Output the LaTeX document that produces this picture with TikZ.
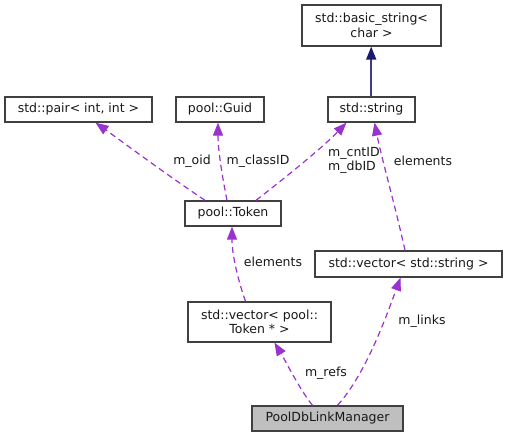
\documentclass[tikz,border=0pt]{standalone}
\usepackage{fontspec}
\setmainfont{DejaVu Sans}
\usetikzlibrary{arrows.meta}
\definecolor{edgepurple}{HTML}{9A32CD}
\definecolor{edgenavy}{HTML}{191970}
\definecolor{navyline}{HTML}{3C3C8C}
\definecolor{boxborder}{HTML}{404040}
\definecolor{mgrfill}{HTML}{BFBFBF}
\begin{document}
\begin{tikzpicture}[x=1pt,y=-1pt,
  every node/.style={font=\fontsize{12.5}{14.5}\selectfont, text=black!90},
  cls/.style={draw=boxborder, line width=1.3pt, fill=white, inner sep=0pt, align=center},
  usage/.style={draw=edgepurple, line width=1.2pt, dash pattern=on 6pt off 4pt,
     -{Triangle[length=13pt,width=10pt,fill=edgepurple,color=edgepurple]}},
  inherit/.style={navyline, line width=1.6pt,
     -{Triangle[length=13pt,width=10pt,fill=edgenavy,color=edgenavy]}},
  lbl/.style={inner sep=0pt, fill=none}
]
\useasboundingbox (0,0) rectangle (508,437);
\fill[white] (0,0) rectangle (508,437);

\node[cls, minimum width=139pt, minimum height=41pt] (bs) at (371.5,25.5) {std::basic\_string<\\char >};
\node[cls, minimum width=147pt, minimum height=25pt] (pair) at (78.5,109.5) {std::pair< int, int >};
\node[cls, minimum width=88pt, minimum height=25pt] (guid) at (220,109.5) {pool::Guid};
\node[cls, minimum width=87pt, minimum height=25pt] (str) at (371.5,109.5) {std::string};
\node[cls, minimum width=96pt, minimum height=25pt] (token) at (233,213.5) {pool::Token};
\node[cls, minimum width=187pt, minimum height=26pt] (vstr) at (408.5,264) {std::vector< std::string >};
\node[cls, minimum width=143pt, minimum height=40pt] (vtok) at (259.5,322) {std::vector< pool::\\Token * >};
\node[cls, fill=mgrfill, minimum width=151pt, minimum height=25pt] (mgr) at (327.5,418.5) {PoolDbLinkManager};

% connector end points on the borders
\coordinate (tokA) at ([xshift=-28pt]token.north);
\coordinate (tokB) at ([xshift=-6pt]token.north);
\coordinate (tokC) at ([xshift=23pt]token.north);
\coordinate (pairE) at ([xshift=17pt]pair.south);
\coordinate (guidE) at ([xshift=-2pt]guid.south);
\coordinate (strE) at ([xshift=-25pt]str.south);
\coordinate (strF) at ([xshift=3pt]str.south);
\coordinate (vstrS) at ([xshift=-3.5pt]vstr.north);
\coordinate (vstrE) at ([xshift=-8pt]vstr.south);
\coordinate (tokE) at ([xshift=-1pt]token.south);
\coordinate (vtokS) at ([xshift=-14pt]vtok.north);
\coordinate (vtokE) at ([xshift=15pt]vtok.south);
\coordinate (mgrA) at ([xshift=-15pt]mgr.north);
\coordinate (mgrB) at ([xshift=10pt]mgr.north);
\coordinate (strTop) at ([xshift=-0.3pt]str.north);
\coordinate (bsBot) at ([xshift=-0.3pt]bs.south);

\draw[inherit] (strTop) -- (bsBot);

\draw[usage] (tokA) .. controls (160,170) and (120,140) .. (pairE);
\draw[usage] (tokB) .. controls (222,175) and (218,150) .. (guidE);
\draw[usage] (tokC) .. controls (295,170) and (325,145) .. (strE);
\draw[usage] (vstrS) .. controls (395,205) and (382,160) .. (strF);
\draw[usage] (vtokS) .. controls (238,280) and (232,255) .. (tokE);
\draw[usage] (mgrA) .. controls (300,390) and (285,360) .. (vtokE);
\draw[usage] (mgrB) .. controls (365,375) and (385,320) .. (vstrE);

\node[lbl] (l1) at (192,161) {m\_oid};
\node[lbl] (l2) at (258,161) {m\_classID};
\node[lbl, align=left, anchor=west] (l3) at (328,160.5) {m\_cntID\\m\_dbID};
\node[lbl] (l4) at (423,161) {elements};
\node[lbl] (l5) at (273,262) {elements};
\node[lbl] (l6) at (422,321) {m\_links};
\node[lbl] (l7) at (326,373) {m\_refs};
\end{tikzpicture}
\end{document}
